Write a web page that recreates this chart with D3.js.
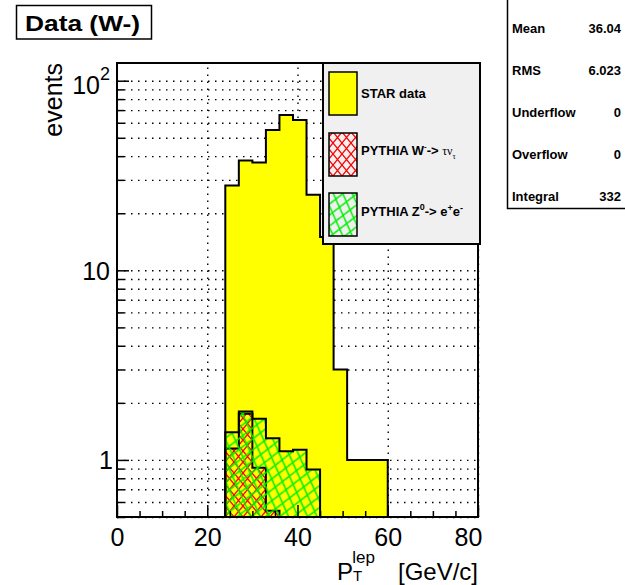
<!DOCTYPE html>
<html>
<head>
<meta charset="utf-8">
<script src="https://cdn.jsdelivr.net/npm/d3@7"></script>
<style>
  body { margin: 0; background: #fff; }
  text { font-family: "Liberation Sans", Arial, Helvetica, sans-serif; }
</style>
</head>
<body>
<svg width="625" height="585"></svg>
<script>
// bin edges (GeV/c) and contents
const binEdges = [24, 27, 30, 33, 36, 39, 42, 45, 48, 51, 54, 57, 60];
const starData = [28, 38, 37, 55, 66, 62, 25, 15, 3, 1, 1, 1];
const pythiaW = [1.15, 1.75, 0.91, 0.54, 0, 0, 0, 0, 0, 0, 0, 0];
const pythiaZ = [1.4, 1.8, 1.65, 1.3, 1.11, 1.13, 0.89, 0, 0, 0, 0, 0];

const xMajor = [0, 20, 40, 60, 80];
const xMinor = [5, 10, 15, 25, 30, 35, 45, 50, 55, 65, 70, 75];
const yMajor = [1, 10, 100];
const yMinor = [0.5, 0.6, 0.7, 0.8, 0.9, 2, 3, 4, 5, 6, 7, 8, 9, 20, 30, 40, 50, 60, 70, 80, 90];

const statNames = ["Mean", "RMS", "Underflow", "Overflow", "Integral"];
const statValues = ["36.04", "6.023", "0", "0", "332"];

const svg = d3.select("svg");
const fLeft = 117, fRight = 478, fTop = 63, fBottom = 517;
const yMin = 0.5, yMax = 124;

const x = d3.scaleLinear().domain([0, 80]).range([fLeft, fRight]);
const y = d3.scaleLog().domain([yMin, yMax]).range([fBottom, fTop]).clamp(true);

svg.append("rect").attr("width", 625).attr("height", 585).attr("fill", "#fff");

// hatch styles
const defs = svg.append("defs");
defs.append("pattern")
  .attr("id", "hatchRed")
  .attr("patternUnits", "userSpaceOnUse")
  .attr("width", 9).attr("height", 11)
  .append("path")
  .attr("d", "M-1,-1.22L10,12.22M10,-1.22L-1,12.22")
  .attr("stroke", "#ff0000").attr("stroke-width", 1.3).attr("fill", "none");
defs.append("pattern")
  .attr("id", "hatchGreen")
  .attr("patternUnits", "userSpaceOnUse")
  .attr("width", 11).attr("height", 14)
  .attr("patternTransform", "rotate(14)")
  .append("path")
  .attr("d", "M-1,-1.27L12,15.27M12,-1.27L-1,15.27")
  .attr("stroke", "#00f000").attr("stroke-width", 1.5).attr("fill", "none");

// grid
const dots = "1.5,5.5";
svg.append("g")
  .attr("transform", `translate(0,${fBottom})`)
  .call(d3.axisBottom(x).tickValues([20, 40, 60, 80]).tickSize(-(fBottom - fTop)).tickFormat(""))
  .call(g => g.select(".domain").remove())
  .call(g => g.selectAll("line").attr("stroke", "#000").attr("stroke-width", 1.4).attr("stroke-dasharray", dots));
svg.append("g")
  .attr("transform", `translate(${fLeft},0)`)
  .call(d3.axisLeft(y).tickValues(yMajor.concat(yMinor)).tickSize(-(fRight - fLeft)).tickFormat(""))
  .call(g => g.select(".domain").remove())
  .call(g => g.selectAll("line").attr("stroke", "#000").attr("stroke-width", 1.4).attr("stroke-dasharray", dots));

// histograms
const steps = vals => binEdges.map((e, i) => [e, i < vals.length ? vals[i] : vals[vals.length - 1]]);
const area = d3.area()
  .curve(d3.curveStepAfter)
  .x(d => x(d[0]))
  .y0(fBottom)
  .y1(d => y(Math.max(d[1], yMin)));

svg.append("path").attr("d", area(steps(starData)))
  .attr("fill", "#ffff00").attr("stroke", "#000").attr("stroke-width", 2);
svg.append("path").attr("d", area(steps(pythiaW)))
  .attr("fill", "url(#hatchRed)").attr("stroke", "#000").attr("stroke-width", 2);
svg.append("path").attr("d", area(steps(pythiaZ)))
  .attr("fill", "url(#hatchGreen)").attr("stroke", "#000").attr("stroke-width", 2);

// frame
svg.append("rect")
  .attr("x", fLeft).attr("y", fTop).attr("width", fRight - fLeft).attr("height", fBottom - fTop)
  .attr("fill", "none").attr("stroke", "#000").attr("stroke-width", 2);

// x axis
svg.append("g")
  .attr("transform", `translate(0,${fBottom})`)
  .call(d3.axisBottom(x).tickValues(xMinor).tickSize(-6).tickFormat(""))
  .call(g => g.select(".domain").remove())
  .call(g => g.selectAll("line").attr("stroke-width", 1.5));
const xAxis = svg.append("g")
  .attr("transform", `translate(0,${fBottom})`)
  .call(d3.axisBottom(x).tickValues(xMajor).tickSize(-12).tickPadding(11).tickFormat(d3.format("d")));
xAxis.select(".domain").remove();
xAxis.selectAll("line").attr("stroke-width", 1.5);
xAxis.selectAll("text")
  .attr("font-size", 25).attr("fill", "#000")
  .attr("font-family", "Liberation Sans, Arial, sans-serif")
  .attr("dx", d => d === 80 ? -10 : 0);

// y axis
svg.append("g")
  .attr("transform", `translate(${fLeft},0)`)
  .call(d3.axisLeft(y).tickValues(yMinor).tickSize(-7).tickFormat(""))
  .call(g => g.select(".domain").remove())
  .call(g => g.selectAll("line").attr("stroke-width", 1.5));
const yAxis = svg.append("g")
  .attr("transform", `translate(${fLeft},0)`)
  .call(d3.axisLeft(y).tickValues(yMajor).tickSize(-12).tickPadding(7).tickFormat(""));
yAxis.select(".domain").remove();
yAxis.selectAll("line").attr("stroke-width", 1.5);
yAxis.selectAll("text")
  .attr("font-size", 25).attr("fill", "#000")
  .attr("font-family", "Liberation Sans, Arial, sans-serif")
  .attr("dx", d => d === 1 ? 3 : 0)
  .attr("dy", d => d === 100 ? "0.5em" : "0.35em")
  .each(function (d) {
    const t = d3.select(this);
    if (d === 100) {
      t.append("tspan").text("10");
      t.append("tspan").attr("font-size", 18).attr("dy", "-0.75em").text("2");
    } else {
      t.text(d);
    }
  });

// axis titles
svg.append("text")
  .attr("transform", "translate(62,63) rotate(-90)")
  .attr("text-anchor", "end")
  .attr("font-size", 25)
  .text("events");

// P_T^lep as one text, sub- and superscript stacked
const xt = svg.append("text").attr("x", 337).attr("y", 580).attr("font-size", 24);
xt.append("tspan").text("P");
xt.append("tspan").attr("font-size", 15).attr("dy", 1).text("T");
xt.append("tspan").attr("font-size", 17).attr("dx", -10).attr("dy", -18).text("lep");
svg.append("text").attr("x", 478).attr("y", 580).attr("font-size", 24)
  .attr("text-anchor", "end").text("[GeV/c]");

// legend
const lg = svg.append("g");
lg.append("rect")
  .attr("x", 323).attr("y", 63).attr("width", 157).attr("height", 181)
  .attr("fill", "#f0f0f0").attr("stroke", "#000").attr("stroke-width", 2);
const boxes = [
  { y: 72, fill: "#ffff00" },
  { y: 133, fill: "url(#hatchRed)" },
  { y: 193, fill: "url(#hatchGreen)" }
];
lg.selectAll("rect.box").data(boxes).enter().append("rect")
  .attr("class", "box")
  .attr("x", 329).attr("y", d => d.y).attr("width", 28).attr("height", 43)
  .attr("fill", d => d.fill).attr("stroke", "#000").attr("stroke-width", 1.5);

lg.append("text").attr("x", 361).attr("y", 98)
  .attr("font-size", 13).attr("font-weight", "bold").text("STAR data");

const tW = lg.append("text").attr("x", 361).attr("y", 155)
  .attr("font-size", 13).attr("font-weight", "bold");
tW.append("tspan").text("PYTHIA W");
tW.append("tspan").attr("font-size", 8).attr("dy", -6).text("-");
tW.append("tspan").attr("dy", 6).text("-> ");
tW.append("tspan").attr("font-weight", "normal").attr("font-size", 12)
  .attr("font-family", "Liberation Serif, serif").text("τν");
tW.append("tspan").attr("font-weight", "normal").attr("font-size", 8).attr("dy", 4)
  .attr("font-family", "Liberation Serif, serif").text("τ");

const tZ = lg.append("text").attr("x", 361).attr("y", 216)
  .attr("font-size", 13).attr("font-weight", "bold");
tZ.append("tspan").text("PYTHIA Z");
tZ.append("tspan").attr("font-size", 9).attr("dy", -6).text("0");
tZ.append("tspan").attr("dy", 6).text("-> e");
tZ.append("tspan").attr("font-size", 9).attr("dy", -5).text("+");
tZ.append("tspan").attr("dy", 5).text("e");
tZ.append("tspan").attr("font-size", 9).attr("dy", -5).text("-");

// title box
svg.append("rect")
  .attr("x", 16.5).attr("y", 5.5).attr("width", 135).attr("height", 33.5)
  .attr("fill", "#fff").attr("stroke", "#000").attr("stroke-width", 1.5);
svg.append("text")
  .attr("x", 25).attr("y", 31)
  .attr("font-size", 22).attr("font-weight", "bold")
  .attr("textLength", 115).attr("lengthAdjust", "spacingAndGlyphs")
  .text("Data (W-)");

// stats box
const st = svg.append("g");
st.append("rect")
  .attr("x", 507.5).attr("y", -2).attr("width", 130).attr("height", 210.5)
  .attr("fill", "#fff").attr("stroke", "#000").attr("stroke-width", 1.5);
st.selectAll("text.name").data(statNames).enter().append("text")
  .attr("class", "name")
  .attr("x", 512).attr("y", (d, i) => 33 + i * 42)
  .attr("font-size", 13).attr("font-weight", "bold").text(d => d);
st.selectAll("text.val").data(statValues).enter().append("text")
  .attr("class", "val")
  .attr("x", 621).attr("y", (d, i) => 33 + i * 42)
  .attr("text-anchor", "end")
  .attr("font-size", 13).attr("font-weight", "bold").text(d => d);
</script>
</body>
</html>
